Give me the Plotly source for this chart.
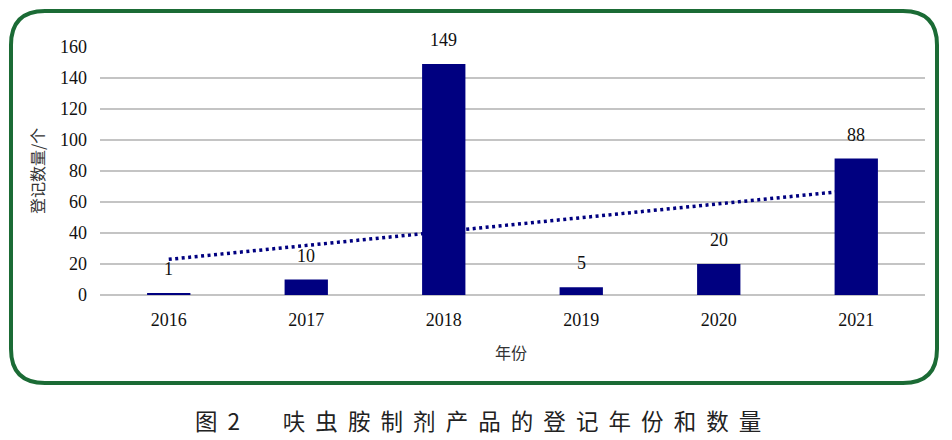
import plotly.graph_objects as go

years = ["2016", "2017", "2018", "2019", "2020", "2021"]
counts = [1, 10, 149, 5, 20, 88]
trend_years = ["2016", "2021"]
trend_values = [23.0, 67.8]
y_ticks = [0, 20, 40, 60, 80, 100, 120, 140, 160]

OFF = 8  # page body margin
W, H = 952 - OFF, 440 - OFF
L, R, T, B = 100 - OFF, 952 - 925, 47 - OFF, 440 - 295
PW, PH = W - L - R, H - T - B

serif = "Liberation Serif, DejaVu Serif, serif"
cjk = "Noto Sans CJK SC, Noto Sans, sans-serif"

fig = go.Figure()
fig.add_trace(go.Scatter(x=trend_years, y=trend_values, mode="lines",
                         line=dict(color="#000080", width=3.5, dash="3px,3.5px"),
                         showlegend=False, hoverinfo="skip"))
fig.add_trace(go.Bar(x=years, y=counts, marker_color="#000080", width=0.315,
                     marker_line_width=0, hoverinfo="x+y", showlegend=False))

for i, c in enumerate(counts):
    fig.add_annotation(x=i, y=c, text=str(c), showarrow=False, yanchor="bottom",
                       yshift=12, font=dict(family=serif, size=18, color="#111"))

def px2paper(sx, sy):
    x, y = sx - OFF, sy - OFF
    return (x - L) / PW, (H - B - y) / PH

x0, y0, x1, y1, r = 11, 11, 937, 383, 34
def P(x, y):
    a, b = px2paper(x, y)
    return f"{a:.5f},{b:.5f}"
path = (f"M {P(x0 + r, y0)} L {P(x1 - r, y0)} Q {P(x1, y0)} {P(x1, y0 + r)} "
        f"L {P(x1, y1 - r)} Q {P(x1, y1)} {P(x1 - r, y1)} "
        f"L {P(x0 + r, y1)} Q {P(x0, y1)} {P(x0, y1 - r)} "
        f"L {P(x0, y0 + r)} Q {P(x0, y0)} {P(x0 + r, y0)} Z")
fig.add_shape(type="path", path=path, xref="paper", yref="paper",
              line=dict(color="#1b6b35", width=4), layer="below")

caption = "图  2　    呋  虫  胺  制  剂  产  品  的  登  记  年  份  和  数  量"
cx, cy = px2paper(478, 420)
fig.add_annotation(x=cx, y=cy, xref="paper", yref="paper", text=caption,
                   xanchor="center", yanchor="middle",
                   showarrow=False, font=dict(family=cjk, size=22.5, color="#222"))

ax, ay = px2paper(37, 171)
fig.add_annotation(x=ax, y=ay, xref="paper", yref="paper", text="登记数量/个",
                   xanchor="center", yanchor="middle",
                   textangle=-90, showarrow=False, font=dict(family=cjk, size=16, color="#333"))
tx, ty = px2paper(511, 352)
fig.add_annotation(x=tx, y=ty, xref="paper", yref="paper", text="年份",
                   xanchor="center", yanchor="middle",
                   showarrow=False, font=dict(family=cjk, size=16, color="#333"))

fig.update_layout(
    width=W, height=H, margin=dict(l=L, r=R, t=T, b=B),
    paper_bgcolor="white", plot_bgcolor="white",
    xaxis=dict(type="category", categoryorder="array", categoryarray=years,
               range=[-0.5, 5.5], showgrid=False, showline=False, ticks="",
               automargin=False,
               tickfont=dict(family=serif, size=18, color="#111"), ticklabelstandoff=12),
    yaxis=dict(range=[0, 160], tickvals=y_ticks, showgrid=True, gridcolor="#c4c4c4",
               gridwidth=1.5, zeroline=True, zerolinecolor="#c4c4c4", zerolinewidth=1.5,
               showline=False, ticks="", ticklabelstandoff=12, automargin=False,
               tickfont=dict(family=serif, size=18, color="#111")),
)
fig.write_html("out.html")
